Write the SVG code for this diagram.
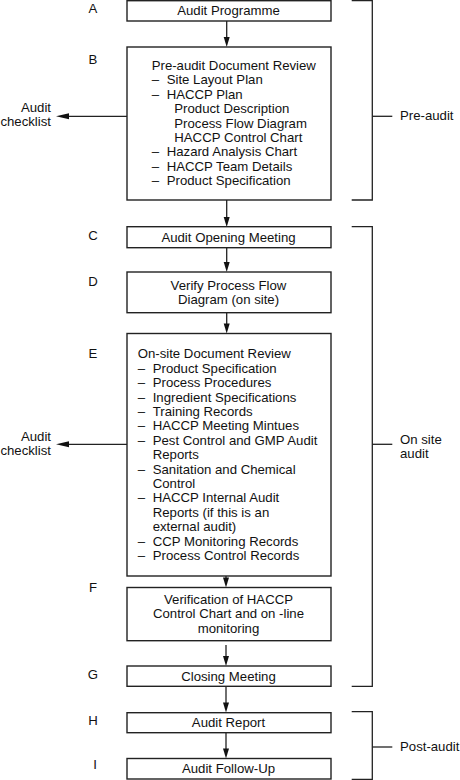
<svg xmlns="http://www.w3.org/2000/svg" width="460" height="780" viewBox="0 0 460 780">
<style>
text{font-family:"Liberation Sans",Arial,Helvetica,sans-serif;font-size:13.2px;fill:#111}
.c{text-anchor:middle}
.r{text-anchor:end}
.box{fill:#fff;stroke:#222;stroke-width:1.4}
.ln{fill:none;stroke:#222;stroke-width:1.3}
.ah{fill:#111}
</style>
<rect width="460" height="780" fill="#fff"/>
<g id="connectors">
<line class="ln" x1="226.7" y1="21" x2="226.7" y2="38"/>
<polygon class="ah" points="223.7,37 229.7,37 226.7,47"/>
<line class="ln" x1="226.7" y1="200" x2="226.7" y2="218"/>
<polygon class="ah" points="223.7,217 229.7,217 226.7,227"/>
<line class="ln" x1="226.7" y1="248" x2="226.7" y2="263"/>
<polygon class="ah" points="223.7,262 229.7,262 226.7,272"/>
<line class="ln" x1="226.7" y1="313" x2="226.7" y2="324"/>
<polygon class="ah" points="223.7,323.5 229.7,323.5 226.7,333.5"/>
<line class="ln" x1="226" y1="576" x2="226" y2="578"/>
<polygon class="ah" points="223,577.5 229,577.5 226,587.5"/>
<line class="ln" x1="226" y1="645" x2="226" y2="657"/>
<polygon class="ah" points="223,656 229,656 226,666"/>
<line class="ln" x1="226" y1="686.5" x2="226" y2="703"/>
<polygon class="ah" points="223,702.5 229,702.5 226,712.5"/>
<line class="ln" x1="226" y1="733" x2="226" y2="749"/>
<polygon class="ah" points="223,748.5 229,748.5 226,758.5"/>
<line class="ln" x1="127" y1="116.3" x2="68" y2="116.3"/>
<polygon class="ah" points="69,113.3 69,119.3 56,116.3"/>
<line class="ln" x1="127" y1="444.3" x2="68" y2="444.3"/>
<polygon class="ah" points="69,441.3 69,447.3 56,444.3"/>
</g>
<g id="brackets">
<polyline class="ln" points="351.7,0.7 372.3,0.7 372.3,200 351.7,200"/>
<line class="ln" x1="372.3" y1="116.3" x2="392.3" y2="116.3"/>
<polyline class="ln" points="351.7,226.7 372.3,226.7 372.3,686.3 351.7,686.3"/>
<line class="ln" x1="372.3" y1="444.3" x2="392.3" y2="444.3"/>
<polyline class="ln" points="351.7,711.7 372.3,711.7 372.3,779.3 351.7,779.3"/>
<line class="ln" x1="372.3" y1="747" x2="392.3" y2="747"/>
<text x="400" y="120">Pre-audit</text>
<text x="400" y="443.5">On site</text>
<text x="400" y="458">audit</text>
<text x="400" y="751.3">Post-audit</text>
</g>
<g id="checklist1">
<text class="r" x="51" y="111.7">Audit</text>
<text class="r" x="51" y="125.7">checklist</text>
</g>
<g id="checklist2">
<text class="r" x="51" y="440.7">Audit</text>
<text class="r" x="51" y="455">checklist</text>
</g>
<g id="labels">
<text class="c" x="93" y="12.7">A</text>
<text class="c" x="93" y="64">B</text>
<text class="c" x="93" y="240">C</text>
<text class="c" x="93" y="285.7">D</text>
<text class="c" x="93" y="357.7">E</text>
<text class="c" x="93" y="591.7">F</text>
<text class="c" x="93" y="679.3">G</text>
<text class="c" x="93" y="725.3">H</text>
<text class="c" x="95" y="769">I</text>
</g>
<g id="nodeA">
<rect class="box" x="127" y="0.7" width="204" height="20.3"/>
<text class="c" x="228.5" y="15">Audit Programme</text>
</g>
<g id="nodeB">
<rect class="box" x="127" y="47" width="204" height="153"/>
<text x="151.7" y="70">Pre-audit Document Review</text>
<text x="151.7" y="84.4">–</text><text x="166.7" y="84.4">Site Layout Plan</text>
<text x="151.7" y="98.8">–</text><text x="166.7" y="98.8">HACCP Plan</text>
<text x="174.3" y="113.2">Product Description</text>
<text x="174.3" y="127.6">Process Flow Diagram</text>
<text x="174.3" y="142">HACCP Control Chart</text>
<text x="151.7" y="156.4">–</text><text x="166.7" y="156.4">Hazard Analysis Chart</text>
<text x="151.7" y="170.8">–</text><text x="166.7" y="170.8">HACCP Team Details</text>
<text x="151.7" y="185.2">–</text><text x="166.7" y="185.2">Product Specification</text>
</g>
<g id="nodeC">
<rect class="box" x="127" y="226.7" width="204" height="21"/>
<text class="c" x="228.5" y="241.7">Audit Opening Meeting</text>
</g>
<g id="nodeD">
<rect class="box" x="127" y="272" width="204" height="40.7"/>
<text class="c" x="228.5" y="290">Verify Process Flow</text>
<text class="c" x="228.5" y="304.4">Diagram (on site)</text>
</g>
<g id="nodeE">
<rect class="box" x="127" y="333.5" width="204" height="242.5"/>
<text x="137.7" y="358.3">On-site Document Review</text>
<text x="137.7" y="372.7">–</text><text x="152.7" y="372.7">Product Specification</text>
<text x="137.7" y="387.1">–</text><text x="152.7" y="387.1">Process Procedures</text>
<text x="137.7" y="401.5">–</text><text x="152.7" y="401.5">Ingredient Specifications</text>
<text x="137.7" y="415.9">–</text><text x="152.7" y="415.9">Training Records</text>
<text x="137.7" y="430.3">–</text><text x="152.7" y="430.3">HACCP Meeting Mintues</text>
<text x="137.7" y="444.7">–</text><text x="152.7" y="444.7">Pest Control and GMP Audit</text>
<text x="152.7" y="459.1">Reports</text>
<text x="137.7" y="473.5">–</text><text x="152.7" y="473.5">Sanitation and Chemical</text>
<text x="152.7" y="487.9">Control</text>
<text x="137.7" y="502.3">–</text><text x="152.7" y="502.3">HACCP Internal Audit</text>
<text x="152.7" y="516.7">Reports (if this is an</text>
<text x="152.7" y="531.1">external audit)</text>
<text x="137.7" y="545.5">–</text><text x="152.7" y="545.5">CCP Monitoring Records</text>
<text x="137.7" y="559.9">–</text><text x="152.7" y="559.9">Process Control Records</text>
</g>
<g id="nodeF">
<rect class="box" x="127" y="587.5" width="204" height="53.2"/>
<text class="c" x="228.5" y="604">Verification of HACCP</text>
<text class="c" x="228.5" y="618.3">Control Chart and on -line</text>
<text class="c" x="228.5" y="632.7">monitoring</text>
</g>
<g id="nodeG">
<rect class="box" x="127" y="666" width="204" height="20.3"/>
<text class="c" x="228.5" y="680.7">Closing Meeting</text>
</g>
<g id="nodeH">
<rect class="box" x="127" y="712.7" width="204" height="20"/>
<text class="c" x="228.5" y="727.3">Audit Report</text>
</g>
<g id="nodeI">
<rect class="box" x="127" y="758.5" width="204" height="20.5"/>
<text class="c" x="228.5" y="772.5">Audit Follow-Up</text>
</g>
</svg>
